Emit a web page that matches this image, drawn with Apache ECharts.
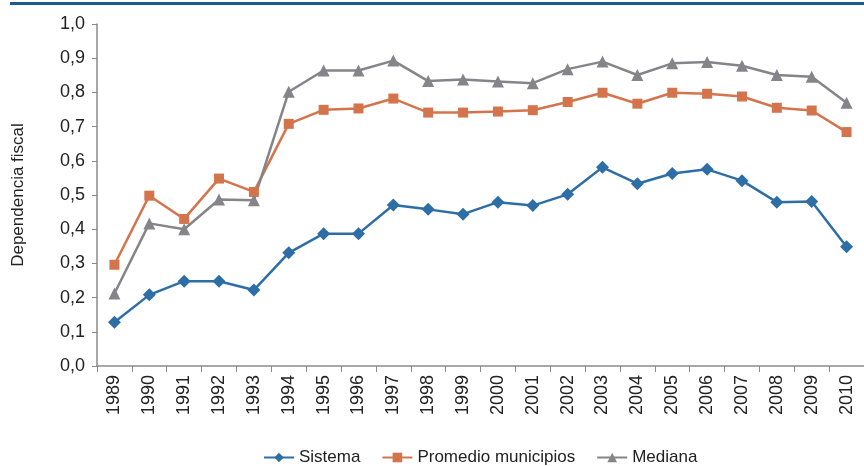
<!DOCTYPE html>
<html>
<head>
<meta charset="utf-8">
<script src="https://cdn.jsdelivr.net/npm/echarts@6/dist/echarts.min.js"></script>
<style>
  html, body { margin: 0; padding: 0; background: #fff; }
  #chart { width: 864px; height: 466px; }
</style>
</head>
<body>
<div id="chart"></div>
<script>
// Years on the category axis
const years = ['1989','1990','1991','1992','1993','1994','1995','1996','1997','1998','1999',
               '2000','2001','2002','2003','2004','2005','2006','2007','2008','2009','2010'];

// Fiscal dependence series
const sistema = [0.128, 0.208, 0.248, 0.248, 0.222, 0.331, 0.387, 0.387, 0.471, 0.458, 0.444,
                 0.479, 0.469, 0.502, 0.581, 0.533, 0.563, 0.575, 0.542, 0.479, 0.481, 0.349];
const promedio = [0.296, 0.498, 0.430, 0.548, 0.509, 0.708, 0.749, 0.753, 0.782, 0.741, 0.741,
                  0.744, 0.748, 0.772, 0.799, 0.767, 0.799, 0.796, 0.788, 0.755, 0.747, 0.684];
const mediana = [0.212, 0.417, 0.400, 0.487, 0.485, 0.802, 0.864, 0.864, 0.893, 0.833, 0.838,
                 0.832, 0.827, 0.868, 0.890, 0.851, 0.885, 0.889, 0.878, 0.851, 0.846, 0.770];

const FONT = "'Liberation Sans Narrow', 'Arial Narrow', 'Liberation Sans', Arial, sans-serif";
const BLUE = '#2E6EA6', ORANGE = '#D4744C', GRAY = '#858589';

const chart = echarts.init(document.getElementById('chart'), null, { renderer: 'canvas' });

function lineSeries(name, data, color, symbol, size) {
  return {
    name, type: 'line', data,
    symbol, symbolSize: size,
    lineStyle: { color, width: 2.5 },
    itemStyle: { color },
    emphasis: { disabled: true },
    animation: false
  };
}

chart.setOption({
  animation: false,
  textStyle: { fontFamily: FONT },
  graphic: [{
    type: 'rect',
    shape: { x: 10, y: 2, width: 854, height: 3 },
    style: { fill: '#1B5C8E' }
  }],
  grid: { left: 97, right: 0, top: 24, bottom: 100, containLabel: false, outerBoundsMode: 'none' },
  legend: {
    top: 444,
    left: 258,
    itemGap: 21,
    itemWidth: 30,
    itemHeight: 12,
    textStyle: { fontFamily: FONT, fontSize: 17, color: '#222' },
    data: ['Sistema', 'Promedio municipios', 'Mediana']
  },
  xAxis: {
    type: 'category',
    data: years,
    boundaryGap: true,
    axisLine: { lineStyle: { color: '#8a8a8a', width: 1.5 } },
    axisTick: { show: true, length: 6, lineStyle: { color: '#8a8a8a' } },
    axisLabel: { rotate: 90, fontSize: 18, color: '#222', margin: 9, fontFamily: FONT, interval: 0 }
  },
  yAxis: {
    type: 'value',
    min: 0, max: 1, interval: 0.1,
    name: 'Dependencia fiscal',
    nameLocation: 'middle',
    nameGap: 70,
    nameRotate: 90,
    nameTextStyle: { fontSize: 17, color: '#222', fontFamily: FONT },
    splitLine: { show: false },
    axisLine: { show: true, lineStyle: { color: '#8a8a8a', width: 1.5 } },
    axisTick: { show: true, length: 5, lineStyle: { color: '#8a8a8a' } },
    axisLabel: {
      fontSize: 18, color: '#222', margin: 12, fontFamily: FONT,
      formatter: v => v.toFixed(1).replace('.', ',')
    }
  },
  series: [
    lineSeries('Sistema', sistema, BLUE, 'diamond', 13),
    lineSeries('Promedio municipios', promedio, ORANGE, 'rect', 10),
    lineSeries('Mediana', mediana, GRAY, 'triangle', 12)
  ]
});
</script>
</body>
</html>
